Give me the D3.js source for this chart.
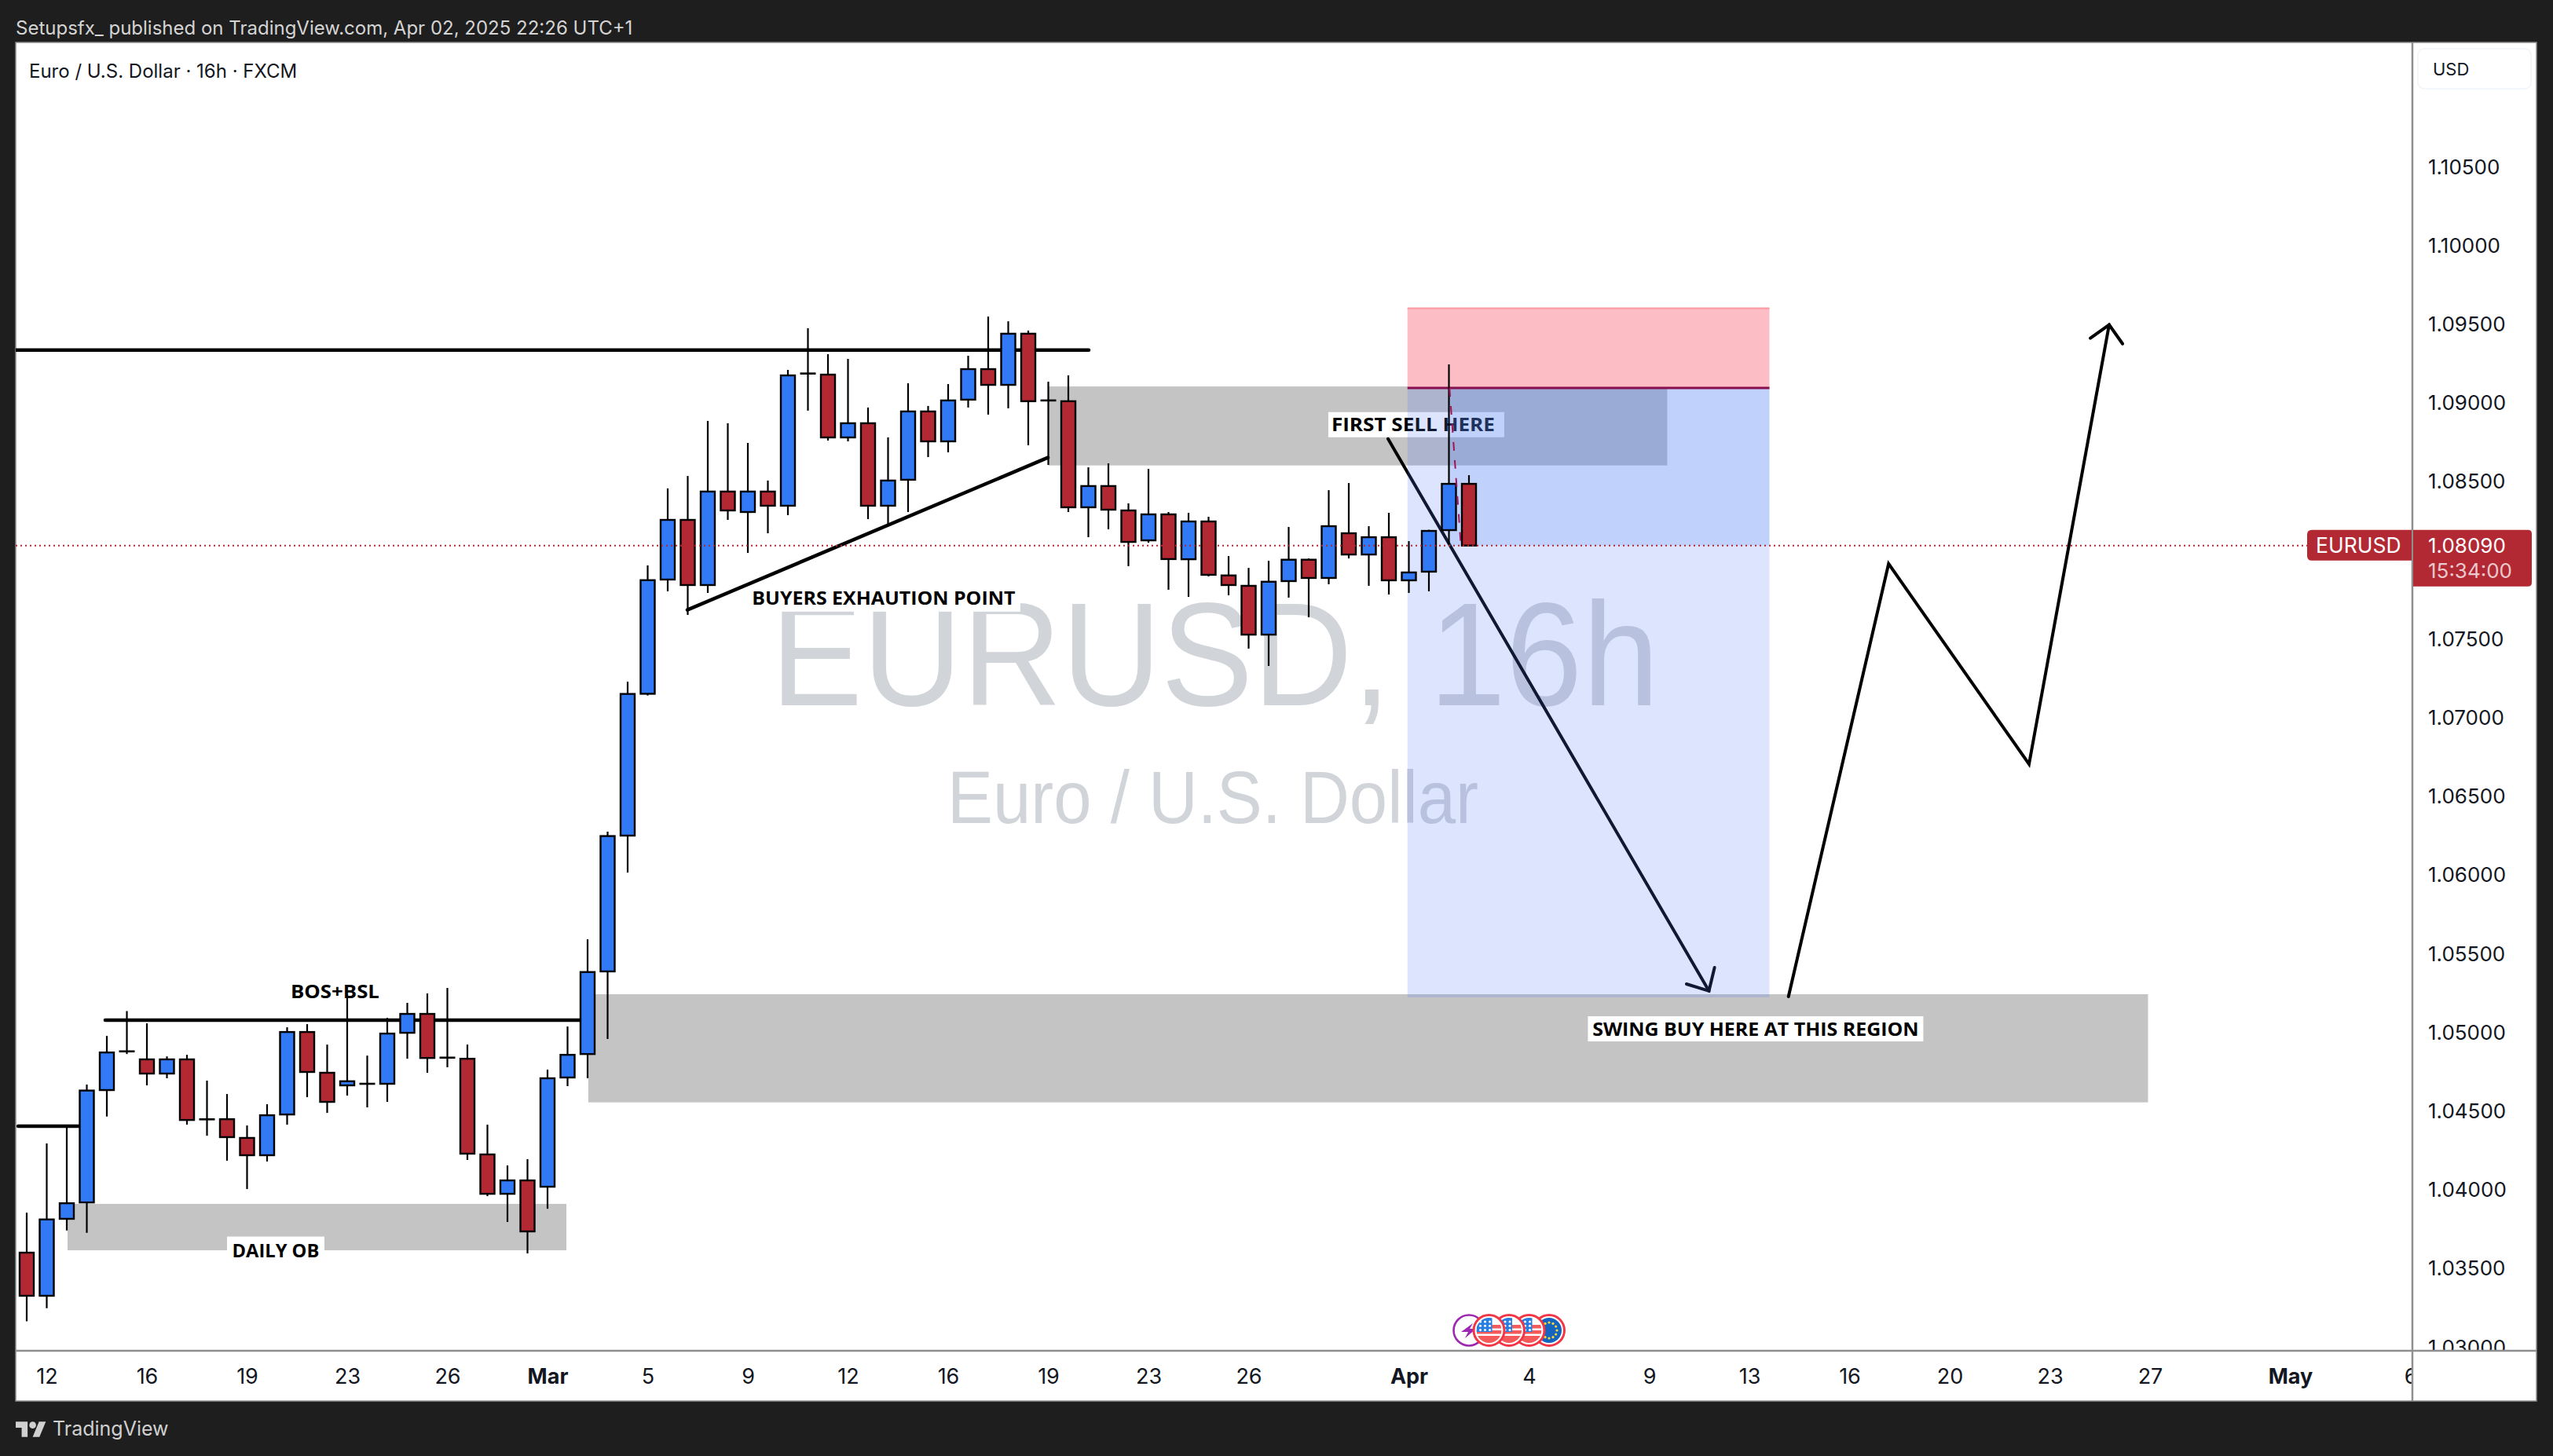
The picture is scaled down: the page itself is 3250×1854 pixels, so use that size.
<!DOCTYPE html>
<html><head><meta charset="utf-8">
<script src="https://cdn.jsdelivr.net/npm/d3@7/dist/d3.min.js"></script>
<style>html,body{margin:0;padding:0;background:#1e1e1e}svg{display:block}text{font-family:Inter,Roboto,sans-serif}</style>
</head><body><svg id="c" width="3250" height="1854"></svg>
<script>
// ---------- values ----------
const opens=[1.03597,1.03323,1.03812,1.03916,1.04630,1.04876,1.04825,1.04735,1.04825,1.04444,1.04445,1.04326,1.04216,1.04475,1.04999,1.04740,1.04660,1.04670,1.04670,1.04994,1.05114,1.04836,1.04829,1.04221,1.03971,1.04056,1.04016,1.04710,1.04859,1.05384,1.06247,1.07148,1.07874,1.08253,1.07839,1.08433,1.08303,1.08433,1.08343,1.09183,1.09176,1.08777,1.08867,1.08343,1.08508,1.08942,1.08752,1.09017,1.09211,1.09111,1.09436,1.09012,1.09007,1.08333,1.08468,1.08313,1.08123,1.08288,1.08003,1.08243,1.07900,1.07834,1.07524,1.07864,1.08000,1.07884,1.08168,1.08033,1.08143,1.07869,1.07924,1.08188,1.08482];
const highs=[1.03851,1.04291,1.04395,1.04665,1.04974,1.05132,1.05054,1.04844,1.04854,1.04690,1.04605,1.04405,1.04540,1.05029,1.05049,1.04919,1.05235,1.04849,1.05089,1.05184,1.05244,1.05279,1.04919,1.04410,1.04151,1.04191,1.04760,1.05034,1.05588,1.06272,1.07225,1.07964,1.08453,1.08532,1.08882,1.08867,1.08742,1.08503,1.09206,1.09471,1.09306,1.09276,1.08967,1.08777,1.09121,1.08977,1.09116,1.09296,1.09545,1.09515,1.09456,1.09131,1.09171,1.08587,1.08612,1.08358,1.08577,1.08303,1.08298,1.08273,1.08023,1.07948,1.07993,1.08208,1.08008,1.08442,1.08487,1.08213,1.08298,1.08118,1.08190,1.09241,1.08537];
const lows=[1.03161,1.03244,1.03738,1.03723,1.04462,1.04859,1.04660,1.04705,1.04410,1.04340,1.04181,1.04001,1.04176,1.04410,1.04585,1.04485,1.04595,1.04520,1.04555,1.04829,1.04740,1.04775,1.04186,1.03956,1.03792,1.03592,1.03876,1.04655,1.04705,1.04954,1.06012,1.07137,1.07799,1.07649,1.07789,1.08253,1.08043,1.08168,1.08283,1.08947,1.08757,1.08752,1.08258,1.08228,1.08303,1.08652,1.08682,1.08967,1.08922,1.08962,1.08727,1.08602,1.08303,1.08143,1.08193,1.07959,1.08108,1.07809,1.07764,1.07894,1.07774,1.07435,1.07325,1.07759,1.07634,1.07844,1.08008,1.07834,1.07779,1.07789,1.07799,1.08097,1.08088];
const closes=[1.03323,1.03808,1.03911,1.04627,1.04869,1.04876,1.04735,1.04825,1.04440,1.04444,1.04331,1.04216,1.04470,1.04999,1.04745,1.04555,1.04686,1.04670,1.04989,1.05114,1.04834,1.04836,1.04226,1.03971,1.04056,1.03732,1.04705,1.04854,1.05380,1.06244,1.07147,1.07870,1.08253,1.07839,1.08433,1.08313,1.08433,1.08343,1.09171,1.09183,1.08777,1.08867,1.08343,1.08503,1.08942,1.08752,1.09012,1.09211,1.09111,1.09436,1.09007,1.09012,1.08333,1.08468,1.08318,1.08113,1.08288,1.08004,1.08243,1.07904,1.07839,1.07524,1.07860,1.08000,1.07884,1.08213,1.08033,1.08143,1.07869,1.07919,1.08183,1.08482,1.08090];
const priceTicks=[1.105,1.10,1.095,1.09,1.085,1.08,1.075,1.07,1.065,1.06,1.055,1.05,1.045,1.04,1.035,1.03];
const priceTickLabels=["1.10500","1.10000","1.09500","1.09000","1.08500","","1.07500","1.07000","1.06500","1.06000","1.05500","1.05000","1.04500","1.04000","1.03500","1.03000"];
const timeTickBars=[1,6,11,16,21,26,31,36,41,46,51,56,61,69,75,81,86,91,96,101,106,113,119];
const timeTickLabels=["12","16","19","23","26","Mar","5","9","12","16","19","23","26","Apr","4","9","13","16","20","23","27","May","6"];
const boldTicks=["Mar","Apr","May"];
const lastPrice=1.0809;
const zones=[[2.04,26.94,1.03907,1.03612],[51.02,81.9,1.09101,1.08599],[28.04,105.9,1.05239,1.04552]];
const levels=[[-0.55,53.02,1.09332],[3.92,27.9,1.05074],[-0.43,2.9,1.04401]];
const trendLine=[[32.98,1.07681],[50.98,1.08649]];
const sellArrow=[[67.96,1.08768],[83.98,1.05260]];
const sellHead=[[82.86,1.05304],[83.98,1.05260],[84.26,1.05409]];
const zigzag=[[87.95,1.05224],[92.95,1.07974],[99.96,1.06701],[103.96,1.09493]];
const zigHead=[[103.02,1.09408],[103.96,1.09493],[104.63,1.09372]];
const positionBars=[68.93,87.0,71.0];
const positionPrices={stop:1.09602,entry:1.09091,target:1.05219};
const stopTrace=[[71.03,1.09091],[71.6,1.0809]];
const notes=[
 {t:"DAILY OB",bar:12.43,p:1.03612,tw:111,w:124,h:35,dx:0},
 {t:"BOS+BSL",bar:15.39,p:1.05259,tw:113,w:126,h:35,dx:0},
 {t:"BUYERS EXHAUTION POINT",bar:42.78,p:1.07755,tw:335,w:348,h:34,dx:0},
 {t:"SWING BUY HERE AT THIS REGION",bar:86.31,p:1.05019,tw:415.5,w:427,h:32,dx:0}
];
const noteUnder={t:"FIRST SELL HERE",bar:69.37,p:1.08858,tw:208,w:224,h:32,dx:-4};
const eventBars=[72,76,75,74,73];
const eventKinds=["bolt","eu","us","us","us"];

// ---------- scales ----------
const W=3250,H=1854,L=20,R=3229,T=54,B=1784,AX=3071,AY=1720;
const x=d3.scaleLinear().domain([0,119]).range([34,3068.5]);
const y=d3.scaleLinear().domain([1.105,1.03]).range([211.7,1714.7]);
const svg=d3.select("#c");
const line=d3.line().x(d=>x(d[0])).y(d=>y(d[1]));
const BLACK="#000",BLUE="#3179f5",RED="#b22833",INK="#131722";
const defs=svg.append("defs");
defs.append("clipPath").attr("id","plot").append("rect").attr("x",L).attr("y",T).attr("width",AX-L).attr("height",AY-T);
defs.append("clipPath").attr("id","ya").append("rect").attr("x",AX).attr("y",T).attr("width",R-AX).attr("height",AY-T);
defs.append("clipPath").attr("id","xa").append("rect").attr("x",L).attr("y",AY).attr("width",AX-L).attr("height",B-AY);

// frame
svg.append("rect").attr("width",W).attr("height",H).attr("fill","#1e1e1e");
svg.append("rect").attr("x",L).attr("y",T).attr("width",R-L).attr("height",B-T).attr("fill","#fff").attr("stroke","#8a8a8a").attr("stroke-width",1.5);

const plot=svg.append("g").attr("clip-path","url(#plot)");

// watermark
const wm=plot.append("g").attr("fill","#d1d4d9");
wm.append("text").attr("x",981).attr("y",897.7).attr("font-size",188).attr("textLength",1131).attr("lengthAdjust","spacingAndGlyphs").style("font-family","'Liberation Sans',Arial,sans-serif").text("EURUSD, 16h");
wm.append("text").attr("x",1206).attr("y",1048).attr("font-size",95).attr("textLength",676).attr("lengthAdjust","spacingAndGlyphs").style("font-family","'Liberation Sans',Arial,sans-serif").text("Euro / U.S. Dollar");

// zones
plot.selectAll("rect.z").data(zones).join("rect").attr("class","z")
 .attr("x",d=>x(d[0])).attr("width",d=>x(d[1])-x(d[0])).attr("y",d=>y(d[2])).attr("height",d=>y(d[3])-y(d[2])).attr("fill","#c4c4c4");

function note(g,d){
 const cx=x(d.bar),cy=y(d.p);
 g.append("rect").attr("x",cx-d.w/2).attr("y",cy-d.h/2).attr("width",d.w).attr("height",d.h).attr("fill","#fff");
 g.append("text").attr("x",cx+d.dx-d.tw/2).attr("y",cy).attr("dy","0.36em").attr("font-size",24).attr("font-weight",700)
  .attr("textLength",d.tw).attr("lengthAdjust","spacingAndGlyphs").attr("fill","#000").style("font-family","'Open Sans',sans-serif").text(d.t);
}
note(plot,noteUnder);
// sell arrow sits beneath the position box
const stroke=(g,pts,w)=>g.append("path").attr("d",line(pts)).attr("fill","none").attr("stroke",BLACK).attr("stroke-width",w).attr("stroke-linecap","round").attr("stroke-linejoin","miter");
stroke(plot,sellArrow,4);stroke(plot,sellHead,4);

// position box
const [pb0,pb1,pbNow]=positionBars,P=positionPrices;
plot.append("rect").attr("x",x(pb0)).attr("width",x(pb1)-x(pb0)).attr("y",y(P.stop)).attr("height",y(P.entry)-y(P.stop)).attr("fill","#fcbec4");
plot.append("rect").attr("x",x(pb0)).attr("width",x(pb1)-x(pb0)).attr("y",y(P.stop)).attr("height",2).attr("fill","#fb9aa4");
plot.append("rect").attr("x",x(pb0)).attr("width",x(pb1)-x(pb0)).attr("y",y(P.entry)).attr("height",y(P.target)-y(P.entry)).attr("fill","rgba(85,125,250,.2)");
plot.append("rect").attr("x",x(pbNow)).attr("width",x(pb1)-x(pbNow)).attr("y",y(P.entry)).attr("height",y(lastPrice)-y(P.entry)).attr("fill","rgba(86,141,240,.216)");
plot.append("line").attr("x1",x(pb0)).attr("x2",x(pb1)).attr("y1",y(P.entry)).attr("y2",y(P.entry)).attr("stroke","#880e4f").attr("stroke-width",3);

notes.forEach(d=>note(plot,d));

// drawn levels
levels.forEach(d=>stroke(plot,[[d[0],d[2]],[d[1],d[2]]],4.5));
stroke(plot,trendLine,4.5);
stroke(plot,zigzag,4);stroke(plot,zigHead,4);

// candles
const idx=d3.range(opens.length);
plot.selectAll("line.w").data(idx).join("line").attr("class","w")
 .attr("x1",i=>x(i)).attr("x2",i=>x(i)).attr("y1",i=>y(highs[i])).attr("y2",i=>y(lows[i])).attr("stroke",BLACK).attr("stroke-width",2.2);
plot.selectAll("rect.b").data(idx.filter(i=>opens[i]!==closes[i])).join("rect").attr("class","b")
 .attr("x",i=>x(i)-9).attr("width",18).attr("y",i=>y(Math.max(opens[i],closes[i])))
 .attr("height",i=>Math.abs(y(opens[i])-y(closes[i]))).attr("fill",i=>closes[i]>=opens[i]?BLUE:RED).attr("stroke",BLACK).attr("stroke-width",2.4);
plot.selectAll("line.d").data(idx.filter(i=>opens[i]===closes[i])).join("line").attr("class","d")
 .attr("x1",i=>x(i)-10).attr("x2",i=>x(i)+10).attr("y1",i=>y(opens[i])).attr("y2",i=>y(opens[i])).attr("stroke",BLACK).attr("stroke-width",2.6);

plot.append("path").attr("d",line(stopTrace)).attr("fill","none").attr("stroke","#a01458").attr("stroke-width",2).attr("stroke-dasharray","11 12");
plot.append("line").attr("x1",L).attr("x2",AX).attr("y1",y(lastPrice)).attr("y2",y(lastPrice)).attr("stroke",RED).attr("stroke-width",2).attr("stroke-dasharray","2 4");

// event icons
const icons=svg.append("g");
eventBars.forEach((b,k)=>{
 const cx=x(b),cy=1694,kind=eventKinds[k],id="ev"+k;
 defs.append("clipPath").attr("id",id).append("circle").attr("cx",cx).attr("cy",cy).attr("r",16);
 const g=icons.append("g");
 if(kind==="bolt"){
  g.append("circle").attr("cx",cx).attr("cy",cy).attr("r",19.5).attr("fill","#fff").attr("stroke","#9c27b0").attr("stroke-width",2.6);
  g.append("path").attr("d",`M${cx+5} ${cy-9}L${cx-10} ${cy+2}L${cx-1} ${cy+2}L${cx-5} ${cy+10}L${cx+9} ${cy-2}L${cx+1} ${cy-2}Z`).attr("fill","#9c27b0");
  return;
 }
 g.append("circle").attr("cx",cx).attr("cy",cy).attr("r",19.5).attr("fill","#fff").attr("stroke","#f23645").attr("stroke-width",3);
 const c=g.append("g").attr("clip-path",`url(#${id})`);
 if(kind==="eu"){
  c.append("rect").attr("x",cx-16).attr("y",cy-16).attr("width",32).attr("height",32).attr("fill","#1565c0");
  d3.range(12).forEach(a=>c.append("circle").attr("cx",cx+10*Math.cos(a*Math.PI/6)).attr("cy",cy+10*Math.sin(a*Math.PI/6)).attr("r",1.6).attr("fill","#fdd835"));
 }else{
  c.append("rect").attr("x",cx-16).attr("y",cy-16).attr("width",32).attr("height",32).attr("fill","#fff");
  [-6,1,8].forEach(o=>c.append("rect").attr("x",cx-16).attr("y",cy+o-1).attr("width",32).attr("height",o===8?9:4.5).attr("fill","#f55a5a"));
  c.append("rect").attr("x",cx-16).attr("y",cy-16).attr("width",20).attr("height",18).attr("fill","#2a7de1");
  d3.range(3).forEach(r=>d3.range(3).forEach(q=>c.append("circle").attr("cx",cx-11+q*6).attr("cy",cy-11+r*5.2).attr("r",1.5).attr("fill","#fff")));
 }
});

// price axis
const yAxis=d3.axisRight(y).tickValues(priceTicks).tickFormat((d,i)=>priceTickLabels[i]).tickSize(0).tickPadding(0);
const ya=svg.append("g").attr("clip-path","url(#ya)").append("g").attr("transform",`translate(3091,0)`).call(yAxis);
ya.select(".domain").remove();
ya.selectAll("text").attr("font-size",26).attr("fill",INK).attr("text-anchor","start").style("font-family","Inter,sans-serif").attr("dy","0.36em");

// time axis
const xAxis=d3.axisBottom(x).tickValues(timeTickBars).tickFormat((d,i)=>timeTickLabels[i]).tickSize(0).tickPadding(0);
const xa=svg.append("g").attr("clip-path","url(#xa)").append("g").attr("transform",`translate(0,1752)`).call(xAxis);
xa.select(".domain").remove();
xa.selectAll("text").attr("font-size",27).attr("fill",INK).attr("dy","0.36em").attr("y",0)
 .attr("font-weight",d=>boldTicks.includes(timeTickLabels[timeTickBars.indexOf(d)])?700:400).style("font-family","Inter,sans-serif");

svg.append("line").attr("x1",AX).attr("x2",AX).attr("y1",T).attr("y2",B).attr("stroke","#8f8f8f").attr("stroke-width",2.5);
svg.append("line").attr("x1",L).attr("x2",R).attr("y1",AY).attr("y2",AY).attr("stroke","#8f8f8f").attr("stroke-width",2.5);

// USD button
svg.append("rect").attr("x",3078).attr("y",62).attr("width",144).attr("height",51).attr("rx",8).attr("fill","#fff").attr("stroke","#f0f3fa").attr("stroke-width",1.5);
svg.append("text").attr("x",3097).attr("y",88).attr("dy","0.36em").attr("font-size",22).attr("fill",INK).text("USD");

// last price tags
const ty=y(lastPrice);
svg.append("path").attr("d",`M2943 ${ty-20}H3070V${ty+19}H2943Q2937 ${ty+19} 2937 ${ty+13}V${ty-14}Q2937 ${ty-20} 2943 ${ty-20}Z`).attr("fill",RED);
svg.append("text").attr("x",2948).attr("y",ty).attr("dy","0.36em").attr("font-size",26.5).attr("fill","#fff").text("EURUSD");
svg.append("path").attr("d",`M3072 ${ty-20}H3218Q3223 ${ty-20} 3223 ${ty-15}V${ty+47}Q3223 ${ty+52} 3218 ${ty+52}H3072Z`).attr("fill",RED);
svg.append("text").attr("x",3091).attr("y",ty).attr("dy","0.36em").attr("font-size",26).attr("fill","#fff").text("1.08090");
svg.append("text").attr("x",3091).attr("y",ty+32).attr("dy","0.36em").attr("font-size",26).attr("fill","rgba(255,255,255,.75)").text("15:34:00");

// header, legend and footer
svg.append("text").attr("x",20).attr("y",35).attr("dy","0.36em").attr("font-size",24).attr("fill","#d4d4d4").text("Setupsfx_ published on TradingView.com, Apr 02, 2025 22:26 UTC+1");
svg.append("text").attr("x",37).attr("y",90).attr("dy","0.36em").attr("font-size",24).attr("fill",INK).text("Euro / U.S. Dollar · 16h · FXCM");
svg.append("g").attr("transform","translate(20,1806) scale(1.08)").attr("fill","#d0d0d0").call(g=>{
 g.append("path").attr("d","M14 22H7V11H0V4h14v18zM28 22h-8l7.5-18h8L28 22z");
 g.append("circle").attr("cx",20).attr("cy",8).attr("r",4);
});
svg.append("text").attr("x",67).attr("y",1819).attr("dy","0.36em").attr("font-size",25).attr("fill","#d0d0d0").text("TradingView");
</script></body></html>
